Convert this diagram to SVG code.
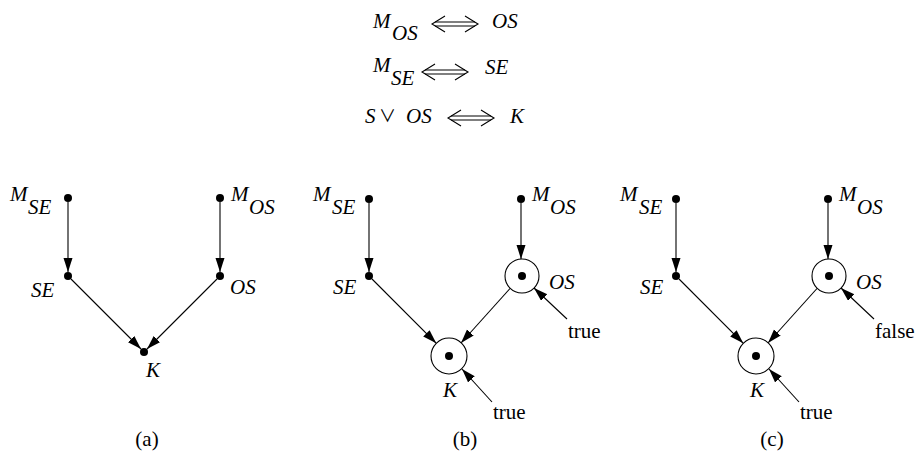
<svg xmlns="http://www.w3.org/2000/svg" width="917" height="453" viewBox="0 0 917 453">
<defs>
<marker id="ah" markerUnits="userSpaceOnUse" markerWidth="15" markerHeight="10" refX="14" refY="4.5" orient="auto">
<path d="M0,0 L14,4.5 L0,9 z" fill="#000"/>
</marker>
</defs>
<rect width="917" height="453" fill="#fff"/>

<g id="equations" fill="#000">
<text font-family="Times New Roman" font-size="21" font-style="italic" x="373" y="28">M</text>
<text font-family="Times New Roman" font-size="21" font-style="italic" x="392" y="40">OS</text>
<g stroke="#000" stroke-width="1.1" fill="none"><line x1="435" y1="22" x2="475" y2="22"/><line x1="435" y1="26" x2="475" y2="26"/><polyline points="445,16 432,24 445,32"/><polyline points="465,16 478,24 465,32"/></g>
<text font-family="Times New Roman" font-size="21" font-style="italic" x="492" y="28">OS</text>
<text font-family="Times New Roman" font-size="21" font-style="italic" x="373" y="72">M</text>
<text font-family="Times New Roman" font-size="21" font-style="italic" x="391" y="85">SE</text>
<g stroke="#000" stroke-width="1.1" fill="none"><line x1="425" y1="70" x2="465" y2="70"/><line x1="425" y1="74" x2="465" y2="74"/><polyline points="435,64 422,72 435,80"/><polyline points="455,64 468,72 455,80"/></g>
<text font-family="Times New Roman" font-size="21" font-style="italic" x="485" y="74">SE</text>
<text font-family="Times New Roman" font-size="21" font-style="italic" x="365" y="123">S</text>
<text font-family="Noto Sans CJK JP" font-size="17" x="379" y="122">∨</text>
<text font-family="Times New Roman" font-size="21" font-style="italic" x="406" y="123">OS</text>
<g stroke="#000" stroke-width="1.1" fill="none"><line x1="451" y1="116" x2="491" y2="116"/><line x1="451" y1="120" x2="491" y2="120"/><polyline points="461,110 448,118 461,126"/><polyline points="481,110 494,118 481,126"/></g>
<text font-family="Times New Roman" font-size="21" font-style="italic" x="510" y="123">K</text>
</g>

<g id="connectors" stroke="#000" stroke-width="1.1" fill="none">
<line x1="68" y1="202" x2="68" y2="272" marker-end="url(#ah)"/>
<line x1="220" y1="202" x2="220" y2="272" marker-end="url(#ah)"/>
<line x1="71" y1="279" x2="141" y2="349" marker-end="url(#ah)"/>
<line x1="217" y1="279" x2="147" y2="349" marker-end="url(#ah)"/>
<line x1="369" y1="203" x2="369" y2="272" marker-end="url(#ah)"/>
<line x1="521" y1="203" x2="521" y2="259" marker-end="url(#ah)"/>
<line x1="372" y1="279" x2="436.3" y2="343.3" marker-end="url(#ah)"/>
<line x1="510" y1="288.5" x2="461" y2="343" marker-end="url(#ah)"/>
<line x1="567" y1="319" x2="534" y2="288" marker-end="url(#ah)"/>
<line x1="492" y1="402" x2="462" y2="369" marker-end="url(#ah)"/>
<line x1="676" y1="203" x2="676" y2="272" marker-end="url(#ah)"/>
<line x1="828" y1="203" x2="828" y2="259" marker-end="url(#ah)"/>
<line x1="679" y1="279" x2="743.3" y2="343.3" marker-end="url(#ah)"/>
<line x1="817" y1="288.5" x2="768" y2="343" marker-end="url(#ah)"/>
<line x1="874" y1="319" x2="841" y2="288" marker-end="url(#ah)"/>
<line x1="799" y1="402" x2="769" y2="369" marker-end="url(#ah)"/>
</g>

<g id="a-MSE"><circle fill="#000" cx="68" cy="198" r="4"/><text font-family="Times New Roman" font-size="21" font-style="italic" x="10" y="201">M</text><text font-family="Times New Roman" font-size="21" font-style="italic" x="28" y="214">SE</text></g>
<g id="a-MOS"><circle fill="#000" cx="220" cy="198" r="4"/><text font-family="Times New Roman" font-size="21" font-style="italic" x="231" y="201">M</text><text font-family="Times New Roman" font-size="21" font-style="italic" x="249" y="214">OS</text></g>
<g id="a-SE"><circle fill="#000" cx="68" cy="276" r="4"/><text font-family="Times New Roman" font-size="21" font-style="italic" x="31" y="297">SE</text></g>
<g id="a-OS"><circle fill="#000" cx="220" cy="276" r="4"/><text font-family="Times New Roman" font-size="21" font-style="italic" x="230" y="294">OS</text></g>
<g id="a-K"><circle fill="#000" cx="144" cy="352" r="4"/><text font-family="Times New Roman" font-size="21" font-style="italic" x="146" y="377">K</text></g>
<text font-family="Times New Roman" font-size="21" text-anchor="middle" x="147" y="446">(a)</text>

<g id="b-MSE"><circle fill="#000" cx="369" cy="199" r="4"/><text font-family="Times New Roman" font-size="21" font-style="italic" x="313" y="201">M</text><text font-family="Times New Roman" font-size="21" font-style="italic" x="332" y="214">SE</text></g>
<g id="b-MOS"><circle fill="#000" cx="521" cy="199" r="4"/><text font-family="Times New Roman" font-size="21" font-style="italic" x="532" y="201">M</text><text font-family="Times New Roman" font-size="21" font-style="italic" x="550" y="214">OS</text></g>
<g id="b-SE"><circle fill="#000" cx="369" cy="276" r="4"/><text font-family="Times New Roman" font-size="21" font-style="italic" x="333" y="294">SE</text></g>
<g id="b-OS"><circle fill="#fff" stroke="#000" stroke-width="1.1" cx="522" cy="276" r="17"/><circle fill="#000" cx="522" cy="276" r="4"/><text font-family="Times New Roman" font-size="21" font-style="italic" x="549" y="289">OS</text></g>
<g id="b-K"><circle fill="#fff" stroke="#000" stroke-width="1.1" cx="449" cy="356" r="18"/><circle fill="#000" cx="449" cy="356" r="4"/><text font-family="Times New Roman" font-size="21" font-style="italic" x="443" y="397">K</text></g>
<text font-family="Times New Roman" font-size="21" x="568" y="338">true</text>
<text font-family="Times New Roman" font-size="21" x="493" y="419">true</text>
<text font-family="Times New Roman" font-size="21" text-anchor="middle" x="465" y="446">(b)</text>

<g id="c-MSE"><circle fill="#000" cx="676" cy="199" r="4"/><text font-family="Times New Roman" font-size="21" font-style="italic" x="620" y="201">M</text><text font-family="Times New Roman" font-size="21" font-style="italic" x="639" y="214">SE</text></g>
<g id="c-MOS"><circle fill="#000" cx="828" cy="199" r="4"/><text font-family="Times New Roman" font-size="21" font-style="italic" x="839" y="201">M</text><text font-family="Times New Roman" font-size="21" font-style="italic" x="857" y="214">OS</text></g>
<g id="c-SE"><circle fill="#000" cx="676" cy="276" r="4"/><text font-family="Times New Roman" font-size="21" font-style="italic" x="640" y="294">SE</text></g>
<g id="c-OS"><circle fill="#fff" stroke="#000" stroke-width="1.1" cx="829" cy="276" r="17"/><circle fill="#000" cx="829" cy="276" r="4"/><text font-family="Times New Roman" font-size="21" font-style="italic" x="856" y="289">OS</text></g>
<g id="c-K"><circle fill="#fff" stroke="#000" stroke-width="1.1" cx="756" cy="356" r="18"/><circle fill="#000" cx="756" cy="356" r="4"/><text font-family="Times New Roman" font-size="21" font-style="italic" x="750" y="397">K</text></g>
<text font-family="Times New Roman" font-size="21" x="875" y="338">false</text>
<text font-family="Times New Roman" font-size="21" x="800" y="419">true</text>
<text font-family="Times New Roman" font-size="21" text-anchor="middle" x="772" y="446">(c)</text>
</svg>
